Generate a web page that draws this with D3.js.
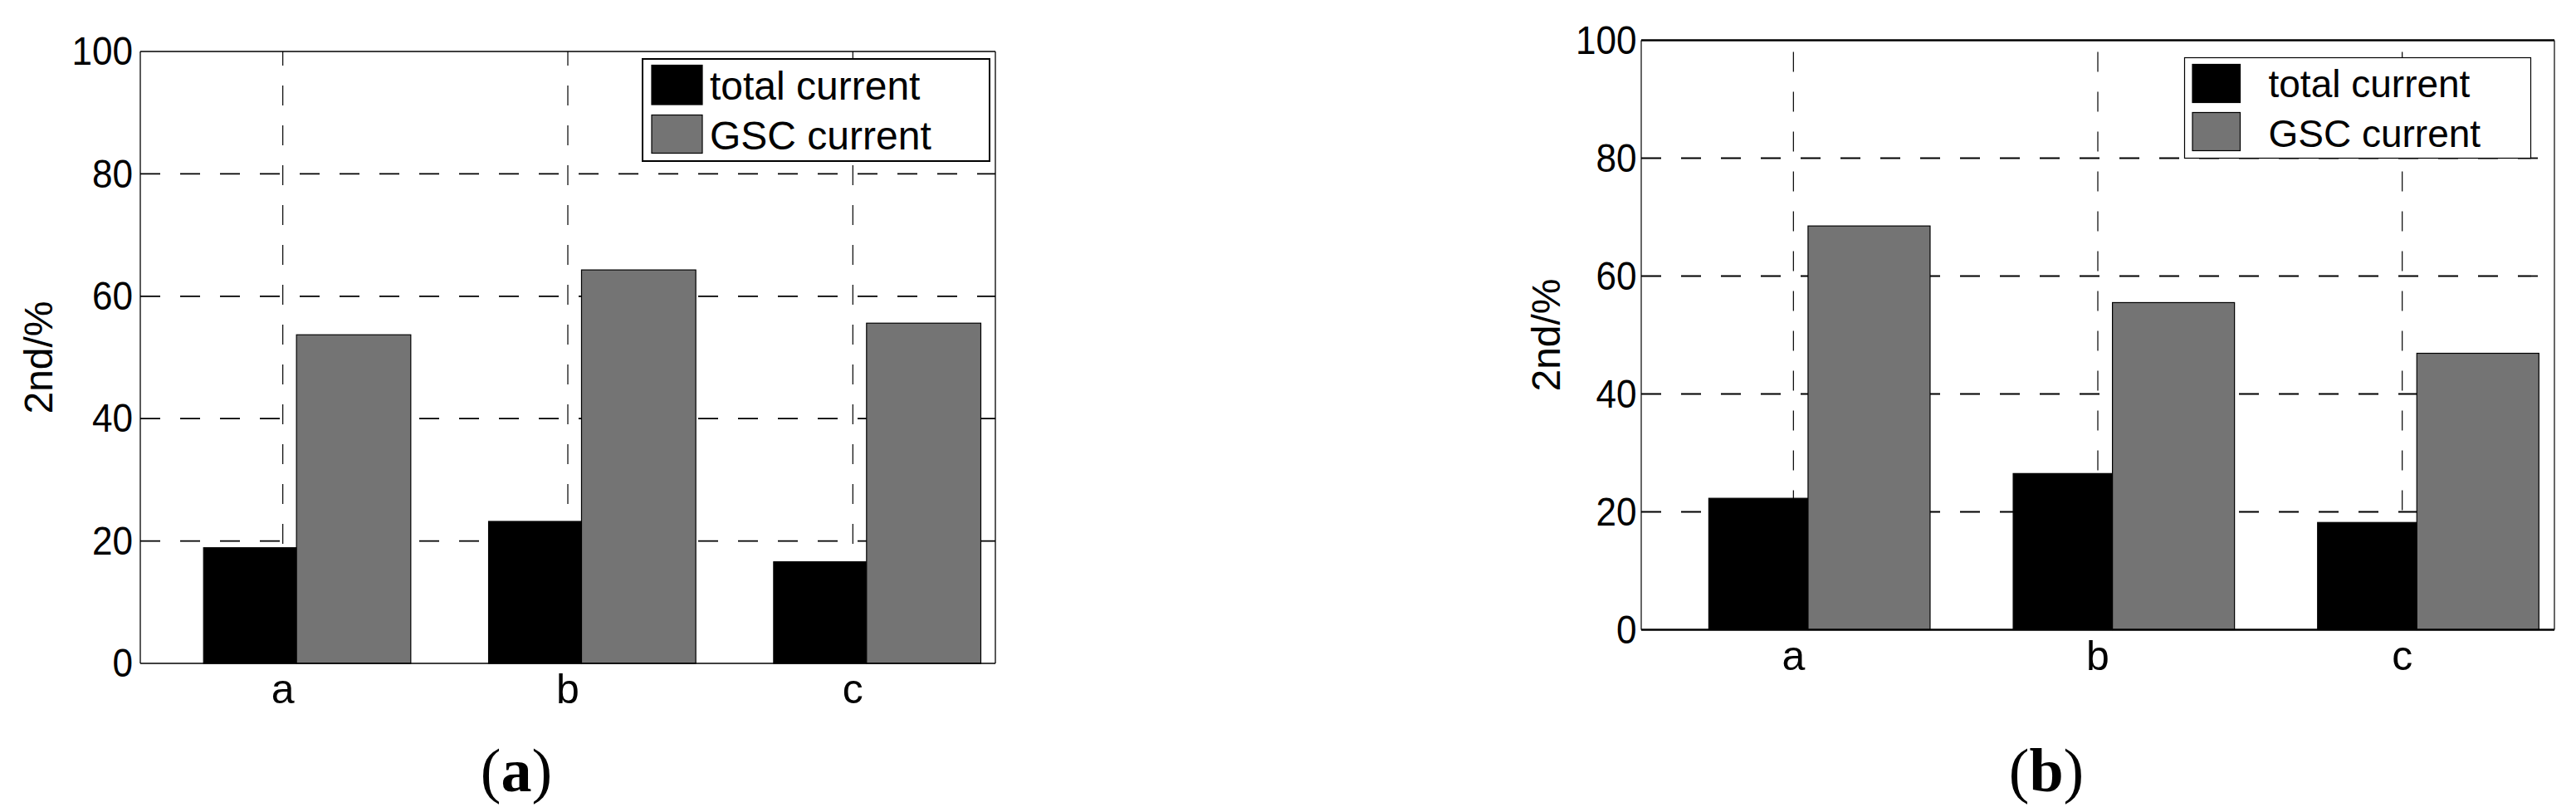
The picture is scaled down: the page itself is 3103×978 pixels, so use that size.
<!DOCTYPE html>
<html>
<head>
<meta charset="utf-8">
<script src="https://cdn.jsdelivr.net/npm/d3@7"></script>
<style>
  html, body { margin: 0; padding: 0; background: #fff; }
  svg { display: block; }
</style>
</head>
<body>
<div id="chart"></div>
<script>
// values
var categories  = ["a", "b", "c"];
var seriesNames = ["total current", "GSC current"];
var totalA = [18.9, 23.2, 16.6];
var gscA   = [53.7, 64.3, 55.6];
var totalB = [22.3, 26.5, 18.2];
var gscB   = [68.5, 55.5, 46.9];
var yTicks = [0, 20, 40, 60, 80, 100];
var gridTicks = [20, 40, 60, 80];
var panelNames = ["a", "b"];

var W = 3103, H = 978;
var grey = "#747474";
var sans = "Arial, 'Liberation Sans', Helvetica, sans-serif";
var serif = "'Times New Roman', 'Liberation Serif', serif";

var svg = d3.select("#chart").append("svg")
	.attr("width", W)
	.attr("height", H);

svg.append("rect").attr("width", W).attr("height", H).attr("fill", "#fff");

// bar edges inside one category band, band centre = 0
var barEdges = [[-0.278, 0.048], [0.048, 0.449]];
var barFill  = ["#000", grey];

var panels = [
	{ name: panelNames[0], series: [totalA, gscA],
	  left: 169, right: 1199, top: 62, bottom: 799,
	  frameTB: 1.5, frameLR: 1.3, tickGap: 10, ylabX: 63,
	  leg: { x: 774, y: 71, w: 418, h: 123, sw: 2, swX: 11, swW: 61,
	         rows: [[7.5, 47.5], [67.5, 46]], textX: 81, base: [49, 108.5], fs: 48 } },
	{ name: panelNames[1], series: [totalB, gscB],
	  left: 1977, right: 3077, top: 48.5, bottom: 758.5,
	  frameTB: 2.6, frameLR: 1.2, tickGap: 6, ylabX: 1879,
	  leg: { x: 2631.5, y: 69.5, w: 417, h: 121, sw: 1.2, swX: 9.5, swW: 57.5,
	         rows: [[8, 46], [66, 46]], textX: 101, base: [47.5, 107.5], fs: 46 } }
];

panels.forEach(function(p) {
	var g = svg.append("g");

	var x = d3.scaleBand()
		.domain(categories)
		.range([p.left, p.right])
		.padding(0);
	var y = d3.scaleLinear()
		.domain([0, 100])
		.range([p.bottom, p.top]);
	var inner = d3.scaleLinear()
		.domain([-0.5, 0.5])
		.range([0, x.bandwidth()]);

	// horizontal dashed grid
	g.selectAll(".hgrid").data(gridTicks).enter().append("line")
		.attr("x1", p.left).attr("x2", p.right)
		.attr("y1", function(d) { return y(d); })
		.attr("y2", function(d) { return y(d); })
		.attr("stroke", "#000")
		.attr("stroke-width", 1.8)
		.attr("stroke-dasharray", "24,24");

	// vertical dashed grid, drawn bottom up
	g.selectAll(".vgrid").data(categories).enter().append("line")
		.attr("x1", function(d) { return x(d) + x.bandwidth() / 2; })
		.attr("x2", function(d) { return x(d) + x.bandwidth() / 2; })
		.attr("y1", p.bottom).attr("y2", p.top)
		.attr("stroke", "#000")
		.attr("stroke-width", 1.2)
		.attr("stroke-dasharray", "24,24");

	// bars
	p.series.forEach(function(vals, si) {
		g.selectAll(".bar" + si).data(vals).enter().append("rect")
			.attr("x", function(d, i) { return x(categories[i]) + inner(barEdges[si][0]); })
			.attr("width", inner(barEdges[si][1]) - inner(barEdges[si][0]))
			.attr("y", function(d) { return y(d); })
			.attr("height", function(d) { return y(0) - y(d); })
			.attr("fill", barFill[si])
			.attr("stroke", "#000")
			.attr("stroke-width", 1.2);
	});

	// axes frame
	g.append("line").attr("x1", p.left).attr("x2", p.right).attr("y1", p.top).attr("y2", p.top)
		.attr("stroke", "#000").attr("stroke-width", p.frameTB);
	g.append("line").attr("x1", p.left).attr("x2", p.right).attr("y1", p.bottom).attr("y2", p.bottom)
		.attr("stroke", "#000").attr("stroke-width", p.frameTB);
	g.append("line").attr("x1", p.left).attr("x2", p.left).attr("y1", p.top).attr("y2", p.bottom)
		.attr("stroke", "#000").attr("stroke-width", p.frameLR);
	g.append("line").attr("x1", p.right).attr("x2", p.right).attr("y1", p.top).attr("y2", p.bottom)
		.attr("stroke", "#000").attr("stroke-width", p.frameLR);

	// y tick labels
	var ya = g.append("g")
		.attr("transform", "translate(" + p.left + ",0)")
		.call(d3.axisLeft(y).tickValues(yTicks).tickSize(0).tickPadding(p.tickGap));
	ya.select(".domain").remove();
	ya.selectAll("text")
		.attr("font-family", sans)
		.attr("font-size", 49)
		.attr("fill", "#000")
		.attr("transform", "scale(0.9,1)");

	// x tick labels
	var xa = g.append("g")
		.attr("transform", "translate(0," + p.bottom + ")")
		.call(d3.axisBottom(x).tickSize(0).tickPadding(0));
	xa.select(".domain").remove();
	xa.selectAll("text")
		.attr("font-family", sans)
		.attr("font-size", 50)
		.attr("fill", "#000")
		.attr("dy", null)
		.attr("y", 48);

	// y axis title
	g.append("text")
		.attr("transform", "translate(" + p.ylabX + "," + ((p.top + p.bottom) / 2) + ") rotate(-90)")
		.attr("text-anchor", "middle")
		.attr("font-family", sans)
		.attr("font-size", 48)
		.text("2nd/%");

	// legend
	var L = p.leg;
	var lg = g.append("g").attr("transform", "translate(" + L.x + "," + L.y + ")");
	lg.append("rect")
		.attr("width", L.w).attr("height", L.h)
		.attr("fill", "#fff").attr("stroke", "#000").attr("stroke-width", L.sw);
	seriesNames.forEach(function(s, i) {
		lg.append("rect")
			.attr("x", L.swX).attr("y", L.rows[i][0])
			.attr("width", L.swW).attr("height", L.rows[i][1])
			.attr("fill", barFill[i]).attr("stroke", "#000").attr("stroke-width", 1.2);
		lg.append("text")
			.attr("x", L.textX).attr("y", L.base[i])
			.attr("font-family", sans)
			.attr("font-size", L.fs)
			.text(s);
	});

	// panel caption (a) / (b)
	var cap = g.append("text")
		.attr("x", (p.left + p.right) / 2 - 62)
		.attr("y", 953)
		.attr("text-anchor", "middle")
		.attr("font-family", serif)
		.attr("font-size", 74);
	cap.append("tspan").text("(");
	cap.append("tspan").attr("font-weight", "bold").text(p.name);
	cap.append("tspan").text(")");
});
</script>
</body>
</html>
